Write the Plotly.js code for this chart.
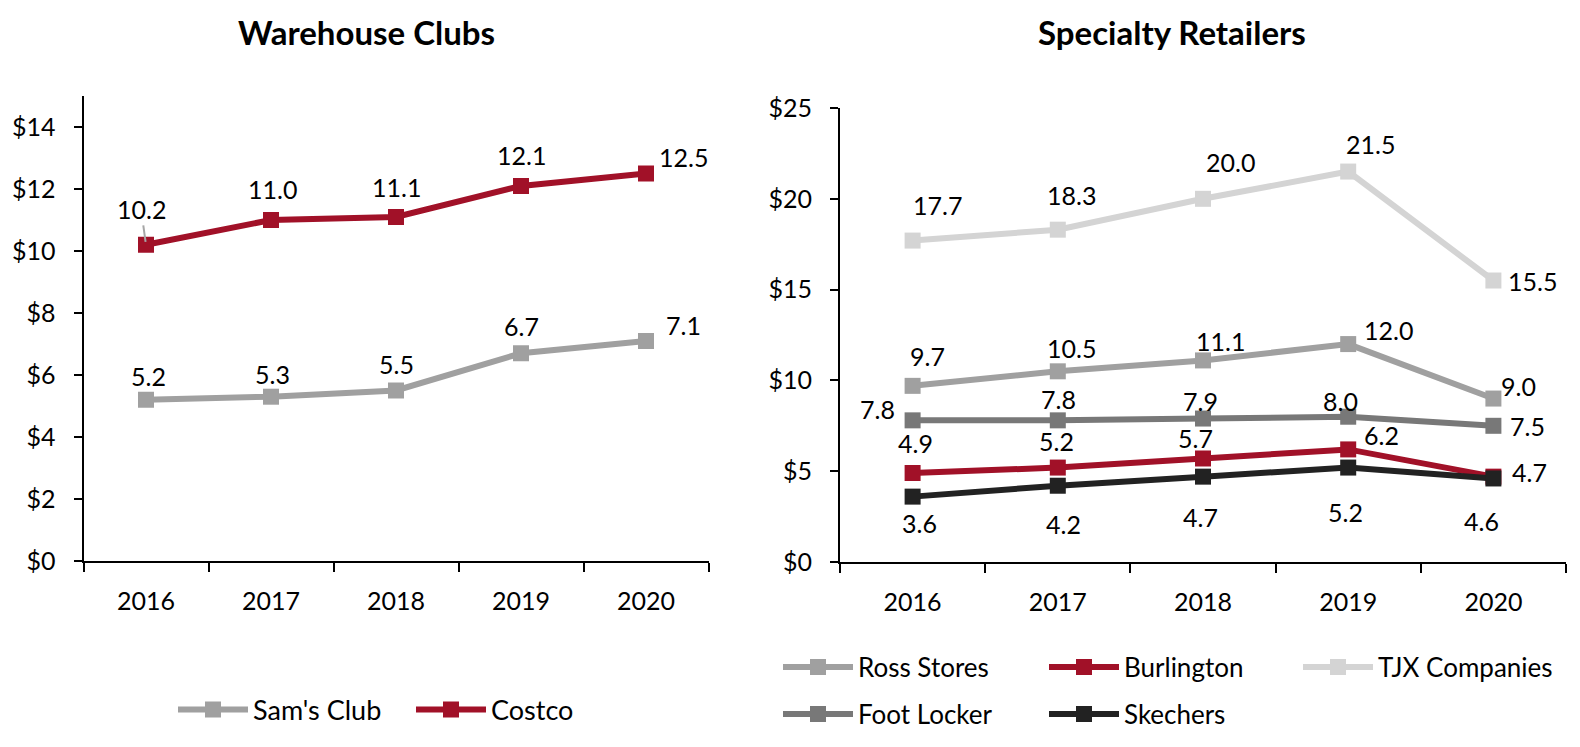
<!DOCTYPE html>
<html>
<head>
<meta charset="utf-8">
<script src="https://cdn.plot.ly/plotly-3.0.1.min.js"></script>
<style>
html,body{margin:0;padding:0;background:#fff;}
#chart{width:1580px;height:747px;}
</style>
</head>
<body>
<div id="chart"></div>
<script>
// ---- data ----
const years = ['2016', '2017', '2018', '2019', '2020'];
const samsClub = [5.2, 5.3, 5.5, 6.7, 7.1];
const costco = [10.2, 11.0, 11.1, 12.1, 12.5];
const rossStores = [9.7, 10.5, 11.1, 12.0, 9.0];
const burlington = [4.9, 5.2, 5.7, 6.2, 4.7];
const tjxCompanies = [17.7, 18.3, 20.0, 21.5, 15.5];
const footLocker = [7.8, 7.8, 7.9, 8.0, 7.5];
const skechers = [3.6, 4.2, 4.7, 5.2, 4.6];

// ---- label offsets (px, screen: dx right, dy down) ----
const offSams = [[2,-24],[1,-23],[0,-27],[0,-27],[37,-16]];
const offCostco = [[-5,-36],[1,-31],[0,-30],[0,-31],[37,-17]];
const offRoss = [[15,-30],[14,-23],[17,-19],[40,-14],[25,-13]];
const offBurl = [[3,-30],[-1,-27],[-8,-20],[33,-14],[36,-5]];
const offTjx = [[25,-36],[14,-35],[27,-37],[22,-28],[39,0]];
const offFoot = [[-35,-11],[1,-21],[-3,-18],[-8,-16],[34,0]];
const offSkech = [[7,26],[6,38],[-3,40],[-3,44],[-12,43]];

const FONT = 'Lato, "Open Sans", sans-serif';
const RED = '#a11128';

function tr(name, y, color, xa, ya, legend) {
  return {
    type: 'scatter', mode: 'lines+markers', name: name,
    x: years, y: y, xaxis: xa, yaxis: ya, legend: legend,
    line: {color: color, width: 6},
    marker: {symbol: 'square', size: 16, color: color},
    hoverinfo: 'skip'
  };
}

const data = [
  tr("Sam's Club", samsClub, '#a0a0a0', 'x', 'y', 'legend'),
  tr('Costco', costco, RED, 'x', 'y', 'legend'),
  tr('Ross Stores', rossStores, '#a0a0a0', 'x2', 'y2', 'legend2'),
  tr('Burlington', burlington, RED, 'x2', 'y2', 'legend2'),
  tr('TJX Companies', tjxCompanies, '#d4d4d4', 'x2', 'y2', 'legend4'),
  tr('Foot Locker', footLocker, '#787878', 'x2', 'y2', 'legend3'),
  tr('Skechers', skechers, '#222222', 'x2', 'y2', 'legend3')
];

const labelFont = {family: FONT, size: 25, color: '#000'};
const annotations = [];
function labels(vals, offs, xr, yr) {
  vals.forEach((v, i) => {
    annotations.push({
      x: i, y: v, xref: xr, yref: yr,
      text: v.toFixed(1), showarrow: false,
      xshift: offs[i][0], yshift: -offs[i][1],
      font: labelFont
    });
  });
}
labels(samsClub, offSams, 'x', 'y');
// Costco: first label has a leader line
costco.forEach((v, i) => {
  if (i === 0) {
    annotations.push({
      x: i, y: v, xref: 'x', yref: 'y', text: v.toFixed(1),
      showarrow: true, arrowhead: 0, arrowwidth: 2, arrowcolor: '#a6a6a6',
      axref: 'pixel', ayref: 'pixel',
      ax: offCostco[i][0], ay: offCostco[i][1], standoff: 3,
      font: labelFont
    });
  } else {
    annotations.push({
      x: i, y: v, xref: 'x', yref: 'y', text: v.toFixed(1), showarrow: false,
      xshift: offCostco[i][0], yshift: -offCostco[i][1],
      font: labelFont
    });
  }
});
labels(rossStores, offRoss, 'x2', 'y2');
labels(burlington, offBurl, 'x2', 'y2');
labels(tjxCompanies, offTjx, 'x2', 'y2');
labels(footLocker, offFoot, 'x2', 'y2');
labels(skechers, offSkech, 'x2', 'y2');

annotations.push({xref: 'paper', yref: 'paper', x: 366/1580, y: 1 - 32/747,
  text: '<b>Warehouse Clubs</b>', showarrow: false, xanchor: 'center', yanchor: 'middle',
  font: {family: FONT, size: 33, color: '#000'}});
annotations.push({xref: 'paper', yref: 'paper', x: 1172/1580, y: 1 - 32/747,
  text: '<b>Specialty Retailers</b>', showarrow: false, xanchor: 'center', yanchor: 'middle',
  font: {family: FONT, size: 33, color: '#000'}});

const tickFont = {family: FONT, size: 25, color: '#000'};
function xax(domain) {
  return {
    domain: domain, type: 'category', range: [-0.5, 4.5],
    showline: true, linecolor: '#000', linewidth: 2,
    ticks: 'outside', tickson: 'boundaries', ticklen: 9, tickwidth: 2, tickcolor: '#000',
    showgrid: false, zeroline: false, tickfont: tickFont, ticklabelstandoff: 17,
    fixedrange: true, automargin: false
  };
}
function yax(domain, range, dtick, anchor) {
  return {
    domain: domain, range: range, dtick: dtick, tick0: 0, tickprefix: '$',
    showline: true, linecolor: '#000', linewidth: 2,
    ticks: 'outside', ticklen: 8, tickwidth: 2, tickcolor: '#000',
    showgrid: false, zeroline: false, tickfont: tickFont, ticklabelstandoff: 13,
    anchor: anchor, fixedrange: true, automargin: false
  };
}

const legFont = {family: FONT, size: 27, color: '#000'};
const legFontR = {family: FONT, size: 26, color: '#000'};
const layout = {
  width: 1580, height: 747,
  margin: {l: 0, r: 0, t: 0, b: 0, autoexpand: false},
  paper_bgcolor: '#fff', plot_bgcolor: '#fff',
  showlegend: true,
  xaxis: Object.assign(xax([83.5/1580, 708.5/1580]), {anchor: 'y'}),
  yaxis: yax([1 - 561/747, 1 - 96/747], [0, 15], 2, 'x'),
  xaxis2: Object.assign(xax([840/1580, 1566/1580]), {anchor: 'y2'}),
  yaxis2: yax([1 - 562/747, 1 - 108/747], [0, 25], 5, 'x2'),
  legend: {orientation: 'h', x: 173/1580, y: 1 - 710/747, xanchor: 'left', yanchor: 'middle',
    font: legFont, itemwidth: 70, entrywidth: 153, bgcolor: 'rgba(0,0,0,0)'},
  legend2: {orientation: 'h', x: 778/1580, y: 1 - 667/747, xanchor: 'left', yanchor: 'middle',
    font: legFontR, itemwidth: 70, entrywidth: 181, bgcolor: 'rgba(0,0,0,0)'},
  legend3: {orientation: 'h', x: 778/1580, y: 1 - 714/747, xanchor: 'left', yanchor: 'middle',
    font: legFontR, itemwidth: 70, entrywidth: 181, bgcolor: 'rgba(0,0,0,0)'},
  legend4: {orientation: 'h', x: 1298/1580, y: 1 - 667/747, xanchor: 'left', yanchor: 'middle',
    font: legFontR, itemwidth: 70, bgcolor: 'rgba(0,0,0,0)'},
  annotations: annotations
};

Plotly.newPlot('chart', data, layout, {staticPlot: true, displayModeBar: false});
</script>
</body>
</html>
